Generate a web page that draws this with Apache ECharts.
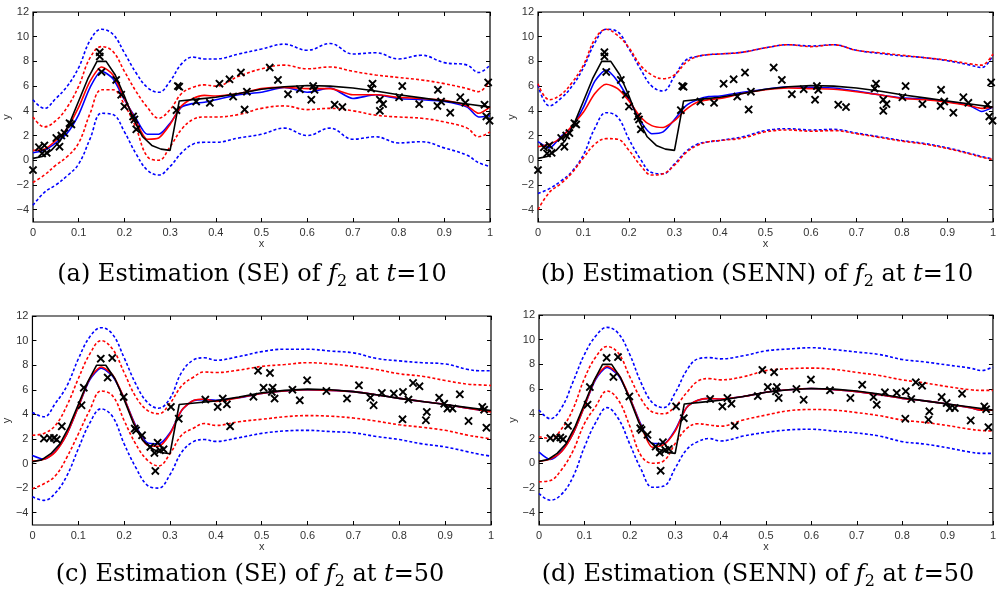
<!DOCTYPE html>
<html><head><meta charset="utf-8">
<script src="https://cdn.jsdelivr.net/npm/echarts@6/dist/echarts.min.js"></script>
<style>html,body{margin:0;padding:0;background:#fff}#c{width:999px;height:595px}</style>
</head><body><div id="c"></div>
<script>
// shared x grid for estimated curves / bands
const G = [0,0.025,0.05,0.075,0.1,0.125,0.15,0.175,0.2,0.225,0.25,0.275,0.3,0.325,0.35,0.375,0.4,0.45,0.5,0.55,0.6,0.65,0.7,0.75,0.8,0.85,0.9,0.95,0.975,1];
// true function f2
const truthX = [0,0.02,0.04,0.06,0.08,0.1,0.12,0.14,0.16,0.18,0.2,0.22,0.24,0.26,0.28,0.3,0.32,0.36,0.4,0.45,0.5,0.55,0.6,0.65,0.7,0.75,0.8,0.85,0.9,0.95,1];
const truthY = [0.15,0.3,0.8,1.6,3.0,4.8,6.6,8.0,8.0,6.9,5.2,3.3,1.9,1.2,0.9,0.8,4.8,4.95,5.1,5.4,5.75,5.95,6.05,6.0,5.85,5.6,5.3,5.05,4.8,4.55,4.3];
// observations at t=10 (panels a, b)
const obs10X = [0.0,0.013,0.025,0.03,0.02,0.051,0.058,0.062,0.069,0.08,0.084,0.146,0.146,0.15,0.182,0.193,0.2,0.219,0.222,0.226,0.314,0.317,0.32,0.357,0.387,0.408,0.43,0.438,0.455,0.463,0.468,0.518,0.536,0.558,0.584,0.609,0.613,0.616,0.66,0.677,0.74,0.743,0.759,0.759,0.766,0.801,0.808,0.845,0.885,0.886,0.893,0.913,0.935,0.946,0.988,0.992,0.996,0.999];
const obs10Y = [-0.8,1.05,1.2,0.6,0.55,1.8,1.1,2.0,2.2,3.0,2.9,8.75,8.4,7.15,6.5,5.3,4.35,3.55,3.3,2.5,4.05,6.0,5.95,4.75,4.65,6.2,6.55,5.15,7.1,4.1,5.55,7.5,6.5,5.35,5.75,4.9,6.0,5.7,4.5,4.3,5.8,6.2,4.9,4.0,4.55,5.1,6.0,4.55,4.4,5.7,4.75,3.85,5.1,4.65,4.5,3.55,6.3,3.2];
// observations at t=50 (panels c, d)
const obs50X = [0.025,0.038,0.047,0.053,0.064,0.107,0.112,0.149,0.174,0.164,0.199,0.223,0.226,0.239,0.257,0.266,0.273,0.278,0.286,0.268,0.302,0.319,0.377,0.404,0.415,0.424,0.431,0.482,0.492,0.518,0.504,0.524,0.522,0.528,0.567,0.583,0.599,0.641,0.686,0.712,0.737,0.744,0.762,0.788,0.808,0.807,0.82,0.83,0.844,0.86,0.858,0.887,0.898,0.905,0.916,0.932,0.951,0.981,0.985,0.99];
const obs50Y = [2.03,2.08,2.08,1.95,3.03,4.74,6.17,8.53,8.59,6.99,5.41,2.84,2.7,2.3,1.35,0.86,1.7,1.08,1.16,-0.6,4.6,3.65,5.2,4.6,5.28,4.82,3.03,5.44,7.55,7.37,6.17,6.17,5.82,5.28,6.01,5.14,6.77,5.9,5.28,6.36,5.36,4.74,5.74,5.69,5.82,3.6,5.2,6.55,6.28,4.2,3.52,5.36,4.87,4.47,4.47,5.63,3.46,4.6,4.38,2.92];

// panel (a) SE, t=10
const aBU = [4.9,4.2,5.0,6.0,7.5,9.7,10.6,10.2,8.7,7.1,5.9,5.5,6.4,7.8,8.35,8.2,8.2,8.6,9.0,9.4,8.9,9.45,8.6,8.7,8.2,8.5,7.9,7.7,7.1,7.7];
const aRU = [3.5,2.7,3.2,4.3,6.0,8.3,9.2,8.8,7.2,5.6,4.3,3.4,4.1,5.4,5.9,6.1,6.0,6.8,7.4,7.7,7.4,7.55,7.2,6.9,6.7,6.5,6.2,5.8,5.55,6.5];
const aBM = [0.6,0.8,1.4,2.2,3.7,5.9,7.2,6.6,4.9,3.4,2.1,2.1,3.0,4.3,4.6,4.7,4.9,5.3,5.5,5.9,5.5,5.85,5.0,5.3,5.0,4.9,4.75,4.3,3.5,3.6];
const aRM = [0.8,0.9,1.6,2.6,4.3,6.4,7.55,6.9,5.0,3.2,1.7,1.8,2.9,4.4,5.0,5.25,5.2,5.4,5.8,5.9,5.8,5.8,5.3,5.3,5.1,5.0,4.85,4.4,3.8,4.3];
const aRL = [-1.8,-1.2,-0.4,0.3,1.4,3.8,5.7,5.7,4.5,2.65,0.3,0.0,1.1,2.5,3.3,3.5,3.5,3.7,4.2,4.4,4.1,4.2,4.0,3.65,3.5,3.4,3.1,2.6,1.9,2.3];
const aBL = [-3.65,-2.6,-2.0,-1.25,-0.3,1.75,3.8,3.7,2.3,0.55,-0.8,-1.2,-0.5,0.6,1.3,1.45,1.45,1.8,2.1,2.6,2.0,2.6,1.7,1.9,1.4,1.5,1.0,0.4,-0.2,-0.5];
// panel (b) SENN, t=10
const bBU = [6.1,4.4,5.0,6.0,7.5,9.5,10.6,10.4,9.0,7.4,6.0,5.6,6.8,8.1,8.4,8.55,8.6,8.75,9.1,9.35,9.25,9.35,8.9,8.65,8.45,8.3,8.05,7.7,7.5,8.5];
const bRU = [6.2,4.9,5.3,6.3,7.7,9.8,10.6,10.1,9.1,7.7,6.9,6.6,6.9,7.9,8.4,8.55,8.6,8.75,9.1,9.35,9.2,9.35,8.9,8.7,8.5,8.3,8.1,7.8,7.7,8.6];
const bBM = [1.5,1.0,1.9,2.7,4.3,6.4,7.3,6.4,4.9,3.2,2.15,2.3,3.3,4.4,4.9,5.15,5.2,5.5,5.75,5.95,5.9,5.85,5.6,5.3,5.05,4.95,4.75,4.4,3.95,4.3];
const bRM = [1.1,1.3,1.8,2.8,3.9,5.4,6.15,5.8,4.8,3.5,2.8,2.65,3.2,4.1,4.7,4.9,5.0,5.4,5.7,5.85,5.8,5.75,5.55,5.3,5.0,4.9,4.7,4.4,4.2,4.3];
const bRL = [-4.0,-2.6,-1.9,-1.0,0.2,1.3,1.75,1.7,0.8,-0.4,-1.2,-1.1,-0.4,0.6,1.2,1.5,1.6,1.8,2.3,2.45,2.35,2.4,2.15,1.85,1.55,1.3,0.95,0.5,0.25,0.05];
const bBL = [-2.7,-2.3,-1.7,-0.9,0.45,2.6,3.85,3.5,1.7,0.1,-1.0,-1.1,-0.3,0.7,1.3,1.5,1.6,1.9,2.4,2.55,2.45,2.5,2.2,1.9,1.6,1.35,1.0,0.55,0.3,0.1];
// panel (c) SE, t=50
const cBU = [4.15,3.8,4.9,6.3,8.5,10.3,11.05,10.5,8.6,6.5,5.0,4.5,5.3,7.4,8.4,8.6,8.4,8.7,9.1,9.3,9.3,9.15,9.0,8.55,8.35,8.2,8.1,7.65,7.55,7.55];
const cRU = [2.3,2.45,3.1,4.7,6.9,8.9,10.0,9.3,7.4,5.45,4.35,4.05,4.9,6.3,7.0,7.45,7.4,7.6,7.9,8.05,8.2,8.1,7.9,7.65,7.3,7.1,6.75,6.45,6.4,6.35];
const cBM = [0.65,0.35,1.0,2.4,4.6,6.8,7.75,7.1,5.3,3.1,1.7,1.6,2.5,4.3,5.1,5.2,5.15,5.35,5.7,5.9,6.0,5.95,5.85,5.6,5.3,5.05,4.8,4.5,4.35,4.25];
const cRM = [0.2,0.35,0.95,2.4,4.6,6.9,7.85,7.2,5.3,3.0,1.5,1.4,2.4,4.3,5.1,5.25,5.05,5.35,5.7,5.9,6.0,5.95,5.85,5.6,5.3,5.05,4.8,4.5,4.35,4.2];
const cRL = [-2.05,-1.65,-1.0,0.5,2.4,4.35,5.9,5.5,3.5,1.6,0.3,-0.2,0.8,2.3,2.85,3.25,3.1,3.4,3.6,3.8,3.9,3.85,3.7,3.45,3.15,2.95,2.7,2.3,2.15,2.0];
const cBL = [-2.7,-3.0,-2.4,-1.0,1.2,3.3,4.45,3.8,1.6,-0.3,-1.75,-2.0,-0.9,0.9,1.75,1.95,1.8,2.1,2.45,2.65,2.7,2.6,2.5,2.2,1.95,1.6,1.35,0.95,0.75,0.6];
// panel (d) SENN, t=50
const dBU = [4.3,3.6,4.5,6.6,8.8,10.3,11.0,10.5,8.8,6.5,4.9,4.5,5.7,7.5,8.45,8.55,8.45,8.7,9.1,9.25,9.35,9.2,9.0,8.8,8.4,8.2,7.95,7.7,7.5,7.8];
const dRU = [2.15,2.0,2.8,4.4,6.85,8.6,9.45,8.9,7.0,5.2,4.15,4.0,4.6,5.7,6.65,6.85,6.75,7.0,7.5,7.65,7.7,7.6,7.35,7.1,6.75,6.5,6.2,5.95,5.9,5.9];
const dBM = [0.9,0.3,1.0,2.4,4.6,6.8,7.75,7.1,5.3,3.1,1.6,1.6,2.7,4.5,5.1,5.25,5.2,5.4,5.75,5.95,6.05,5.95,5.8,5.55,5.25,5.05,4.8,4.5,4.3,4.3];
const dRM = [0.15,0.35,0.95,2.4,4.6,6.9,7.85,7.2,5.3,3.0,1.3,1.5,2.6,4.5,5.1,5.25,5.2,5.4,5.75,5.95,6.05,5.95,5.8,5.55,5.25,5.05,4.8,4.5,4.3,4.3];
const dRL = [-1.5,-1.4,-0.5,1.0,3.2,4.6,5.85,5.1,3.0,0.6,0.0,0.2,1.6,2.8,3.2,3.1,3.0,3.5,3.9,4.25,4.35,4.3,4.1,3.85,3.5,3.3,3.05,2.75,2.65,2.6];
const dBL = [-2.45,-3.0,-2.5,-1.1,1.3,3.3,4.5,3.6,1.55,-0.5,-1.95,-1.85,-0.4,1.1,1.75,2.0,1.8,2.2,2.5,2.7,2.75,2.6,2.45,2.2,1.75,1.55,1.25,0.9,0.8,0.8];

const yTicks = [-4,-2,0,2,4,6,8,10,12];
const captions = [
  '{n|(a) Estimation (SE) of }{i|f}{s|2}{n| at }{i|t}{n|=10}',
  '{n|(b) Estimation (SENN) of }{i|f}{s|2}{n| at }{i|t}{n|=10}',
  '{n|(c) Estimation (SE) of }{i|f}{s|2}{n| at }{i|t}{n|=50}',
  '{n|(d) Estimation (SENN) of }{i|f}{s|2}{n| at }{i|t}{n|=50}'
];

const panels = [
  {grid:{left:33,top:12,width:457,height:210}, bu:aBU, ru:aRU, bm:aBM, rm:aRM, rl:aRL, bl:aBL, ox:obs10X, oy:obs10Y, cap:[252,275]},
  {grid:{left:538,top:12,width:459,height:210}, bu:bBU, ru:bRU, bm:bBM, rm:bRM, rl:bRL, bl:bBL, ox:obs10X, oy:obs10Y, cap:[757,275]},
  {grid:{left:32,top:316,width:459,height:209}, bu:cBU, ru:cRU, bm:cBM, rm:cRM, rl:cRL, bl:cBL, ox:obs50X, oy:obs50Y, cap:[250,575]},
  {grid:{left:539,top:315,width:458,height:210}, bu:dBU, ru:dRU, bm:dBM, rm:dRM, rl:dRL, bl:dBL, ox:obs50X, oy:obs50Y, cap:[758,575]}
];

function P(xs, ys){ return xs.map((x,i)=>[x, ys[i]]); }
const lblFont = {fontFamily:'Liberation Sans, Arial, sans-serif', fontSize:11, color:'#333'};
const crossPath = 'path://M1.6,0 L5,3.4 L8.4,0 L10,1.6 L6.6,5 L10,8.4 L8.4,10 L5,6.6 L1.6,10 L0,8.4 L3.4,5 L0,1.6 Z';

const grid=[], xAxis=[], yAxis=[], series=[], graphic=[];
panels.forEach((p,k)=>{
  grid.push(Object.assign({show:true, borderColor:'#000', borderWidth:1.2, backgroundColor:'transparent', containLabel:false}, p.grid));
  const tick = {show:true, inside:true, length:4, lineStyle:{color:'#000'}};
  const xb = {type:'value', gridIndex:k, min:0, max:1, interval:0.1, position:'bottom',
    axisLine:{show:false, onZero:false}, splitLine:{show:false},
    axisTick:tick,
    axisLabel:Object.assign({margin:5}, lblFont),
    name:'x', nameLocation:'middle', nameGap:12, nameTextStyle:Object.assign({}, lblFont)};
  const xt = {type:'value', gridIndex:k, min:0, max:1, interval:0.1, position:'top',
    axisLine:{show:false, onZero:false}, splitLine:{show:false},
    axisTick:tick, axisLabel:{show:false}};
  const yl = {type:'value', gridIndex:k, min:-5, max:12, position:'left',
    axisLine:{show:false, onZero:false}, splitLine:{show:false},
    axisTick:Object.assign({customValues:yTicks}, tick),
    axisLabel:Object.assign({margin:4, customValues:yTicks, formatter:v=>String(v).replace('-','\u2212')}, lblFont),
    name:'y', nameLocation:'middle', nameGap:16, nameTextStyle:Object.assign({}, lblFont)};
  const yr = {type:'value', gridIndex:k, min:-5, max:12, position:'right',
    axisLine:{show:false, onZero:false}, splitLine:{show:false},
    axisTick:Object.assign({customValues:yTicks}, tick),
    axisLabel:{show:false}};
  xAxis.push(xb, xt); yAxis.push(yl, yr);
  const xi = 2*k, yi = 2*k;
  const dash = (data,color)=>({type:'line', xAxisIndex:xi, yAxisIndex:yi, data:P(G,data), smooth:0.4, symbol:'none',
    lineStyle:{color, width:1.6, type:[3,2.2]}, z:2});
  const solid = (xs,data,color,sm,z)=>({type:'line', xAxisIndex:xi, yAxisIndex:yi, data:P(xs,data), smooth:sm, symbol:'none',
    lineStyle:{color, width:1.6}, z});
  series.push(dash(p.bu,'#0000ff'), dash(p.bl,'#0000ff'), dash(p.ru,'#ff0000'), dash(p.rl,'#ff0000'));
  series.push(solid(G,p.bm,'#0000ff',0.25,3), solid(G,p.rm,'#ff0000',0.25,4), solid(truthX,truthY,'#000',false,5));
  series.push({type:'scatter', xAxisIndex:xi, yAxisIndex:yi, data:P(p.ox,p.oy), symbol:crossPath, symbolSize:8.5,
    itemStyle:{color:'#000', opacity:1}, z:6});
  graphic.push({type:'text', x:p.cap[0], y:p.cap[1], style:{text:captions[k], align:'center', verticalAlign:'middle',
    rich:{
      n:{fontFamily:'DejaVu Serif', fontSize:24, lineHeight:30, fill:'#000'},
      i:{fontFamily:'DejaVu Serif', fontStyle:'italic', fontSize:24, lineHeight:30, fill:'#000'},
      s:{fontFamily:'DejaVu Serif', fontSize:16, lineHeight:14, verticalAlign:'bottom', fill:'#000'}
    }}});
});

const chart = echarts.init(document.getElementById('c'), null, {renderer:'canvas'});
chart.setOption({animation:false, backgroundColor:'#fff', grid, xAxis, yAxis, series, graphic});
</script></body></html>
